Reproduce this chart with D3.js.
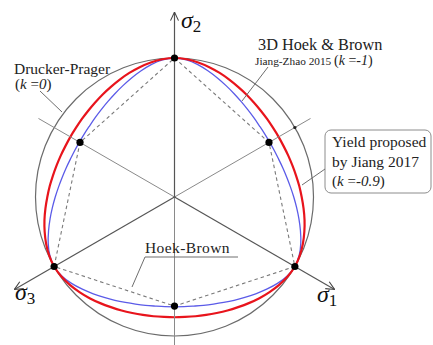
<!DOCTYPE html>
<html>
<head>
<meta charset="utf-8">
<script src="https://cdn.jsdelivr.net/npm/d3@7/dist/d3.min.js"></script>
<style>
  html, body { margin: 0; padding: 0; background: #fff; }
  svg { display: block; font-family: "Liberation Serif", "Times New Roman", serif; }
</style>
</head>
<body>
<svg id="chart" width="433" height="345"></svg>
<script>
// Deviatoric (π-plane) section of several rock yield criteria.
// Radii are relative to the Drucker-Prager circle (1 = on the circle),
// sampled every 5° of Lode angle from the compression meridian (0°)
// to the principal-axis vertex (60°); the six sectors are mirror images.
const lodeAngles     = [0, 5, 10, 15, 20, 25, 30, 35, 40, 45, 50, 55, 60];
const jiang2017      = [0.865, 0.866, 0.871, 0.878, 0.888, 0.901, 0.915, 0.932, 0.950, 0.967, 0.983, 0.995, 1.000]; // k = -0.9
const jiangZhao2015  = [0.790, 0.792, 0.797, 0.807, 0.820, 0.837, 0.858, 0.882, 0.909, 0.938, 0.967, 0.990, 1.000]; // k = -1
const hoekBrownRadii = [0.785, 1.000];   // straight-sided hexagon: mid-sector, vertex
const druckerPrager  = 1.000;            // k = 0, circle

// Principal stress axes, angle clockwise from the upward direction
const axisNames  = ["1", "2", "3"];
const axisAngles = [120, 0, 240];

const svg = d3.select("#chart");
const cx = 174.5, cy = 197, R = 139;
const r = d3.scaleLinear().domain([0, 1]).range([0, R]);

const px = (a, rr) => cx + r(rr) * Math.sin(a * Math.PI / 180);
const py = (a, rr) => cy - r(rr) * Math.cos(a * Math.PI / 180);

// Expand one 60° table to the full closed curve by symmetry
function fullCurve(values) {
  const pts = [];
  for (let a = 0; a < 360; a += 5) {
    let d = a % 120; if (d > 60) d = 120 - d;          // distance from vertex
    const idx = lodeAngles.indexOf(60 - d);
    pts.push([a * Math.PI / 180, values[idx]]);
  }
  return pts;
}

const radial = d3.lineRadial()
  .angle(d => d[0])
  .radius(d => r(d[1]))
  .curve(d3.curveCatmullRomClosed.alpha(0.5));

const g = svg.append("g").attr("transform", `translate(${cx},${cy})`);

// Arrow marker for the stress axes
svg.append("defs").append("marker")
  .attr("id", "arrow").attr("viewBox", "0 0 10 10")
  .attr("refX", 9.5).attr("refY", 5)
  .attr("markerWidth", 10).attr("markerHeight", 10)
  .attr("markerUnits", "userSpaceOnUse")
  .attr("orient", "auto")
  .append("path").attr("d", "M1,1 L9.5,5 L1,9")
  .attr("fill", "none").attr("stroke", "#444").attr("stroke-width", 1.1);

// Thin lines opposite to each axis
axisAngles.forEach(a => {
  const b = a + 180;
  svg.append("line")
    .attr("x1", cx).attr("y1", cy)
    .attr("x2", px(b, 1.13)).attr("y2", py(b, 1.13))
    .attr("stroke", "#8a8a8a").attr("stroke-width", 1);
});

// Principal axes with arrows
axisAngles.forEach(a => {
  svg.append("line")
    .attr("x1", cx).attr("y1", cy)
    .attr("x2", px(a, 1.33)).attr("y2", py(a, 1.33))
    .attr("stroke", "#555").attr("stroke-width", 1.2)
    .attr("marker-end", "url(#arrow)");
});

// Drucker-Prager circle
g.append("circle").attr("r", r(druckerPrager))
  .attr("fill", "none").attr("stroke", "#6b6b6b").attr("stroke-width", 1.2);

// Hoek-Brown hexagon (dashed)
const hexPts = d3.range(6).map(i => [i * 60, hoekBrownRadii[i % 2 === 0 ? 1 : 0]]);
svg.append("path")
  .attr("d", d3.line().x(d => px(d[0], d[1])).y(d => py(d[0], d[1])).curve(d3.curveLinearClosed)(hexPts))
  .attr("fill", "none").attr("stroke", "#7a7a7a").attr("stroke-width", 1.1)
  .attr("stroke-dasharray", "3.5,3");

// Jiang-Zhao 2015 (blue) and Jiang 2017 (red)
g.append("path").attr("d", radial(fullCurve(jiangZhao2015)))
  .attr("fill", "none").attr("stroke", "#5b5be8").attr("stroke-width", 1.3);
g.append("path").attr("d", radial(fullCurve(jiang2017)))
  .attr("fill", "none").attr("stroke", "#e8141c").attr("stroke-width", 2.2);

// Vertices and mid-sector points
hexPts.forEach(d => {
  svg.append("circle").attr("cx", px(d[0], d[1])).attr("cy", py(d[0], d[1]))
    .attr("r", 3.6).attr("fill", "#000");
});
svg.append("circle").attr("cx", px(60, 1)).attr("cy", py(60, 1))
  .attr("r", 1.6).attr("fill", "#222");

// Axis labels σ1, σ2, σ3
const axisLabelPos = { "1": [317, 302], "2": [181, 28], "3": [15, 300] };
axisNames.forEach(n => {
  const [x, y] = axisLabelPos[n];
  const t = svg.append("text").attr("x", x).attr("y", y).attr("fill", "#111");
  t.append("tspan").attr("font-size", 24).attr("font-style", "italic").text("σ");
  t.append("tspan").attr("font-size", 17).attr("dy", 4).text(n);
});

const gray = "#6e6e6e";
// Drucker-Prager label
svg.append("text").attr("x", 14).attr("y", 74).attr("font-size", 15.5).attr("fill", "#222")
  .text("Drucker-Prager");
const dp = svg.append("text").attr("x", 15).attr("y", 89).attr("font-size", 15).attr("fill", "#222");
dp.append("tspan").text("(");
dp.append("tspan").attr("font-style", "italic").text("k");
dp.append("tspan").text(" =");
dp.append("tspan").attr("font-style", "italic").text("0");
dp.append("tspan").text(")");
svg.append("line").attr("x1", 40).attr("y1", 91).attr("x2", 62).attr("y2", 112)
  .attr("stroke", gray).attr("stroke-width", 1);

// 3D Hoek & Brown label
svg.append("text").attr("x", 258).attr("y", 50).attr("font-size", 16.3).attr("fill", "#222")
  .text("3D Hoek & Brown");
const jz = svg.append("text").attr("x", 255).attr("y", 65).attr("fill", "#222");
jz.append("tspan").attr("font-size", 11.3).text("Jiang-Zhao 2015 ");
jz.append("tspan").attr("font-size", 14).text("(");
jz.append("tspan").attr("font-size", 14).attr("font-style", "italic").text("k");
jz.append("tspan").attr("font-size", 14).text(" =-");
jz.append("tspan").attr("font-size", 14).attr("font-style", "italic").text("1");
jz.append("tspan").attr("font-size", 14).text(")");
svg.append("line").attr("x1", 268).attr("y1", 67).attr("x2", 242).attr("y2", 101)
  .attr("stroke", gray).attr("stroke-width", 1);

// Jiang 2017 boxed label
svg.append("rect").attr("x", 325).attr("y", 130).attr("width", 106).attr("height", 63)
  .attr("rx", 6).attr("fill", "#fff").attr("stroke", "#8c8c8c").attr("stroke-width", 1);
svg.append("text").attr("x", 332).attr("y", 147).attr("font-size", 15.5).attr("fill", "#222")
  .text("Yield proposed");
svg.append("text").attr("x", 332).attr("y", 167).attr("font-size", 15.5).attr("fill", "#222")
  .text("by Jiang 2017");
const jb = svg.append("text").attr("x", 332).attr("y", 186).attr("font-size", 15).attr("fill", "#222");
jb.append("tspan").text("(");
jb.append("tspan").attr("font-style", "italic").text("k");
jb.append("tspan").text(" =-");
jb.append("tspan").attr("font-style", "italic").text("0.9");
jb.append("tspan").text(")");
svg.append("line").attr("x1", 325).attr("y1", 169).attr("x2", 302).attr("y2", 185)
  .attr("stroke", gray).attr("stroke-width", 1);

// Hoek-Brown label with leader
svg.append("text").attr("x", 145).attr("y", 253).attr("font-size", 15.5).attr("fill", "#222")
  .attr("letter-spacing", 0.4)
  .text("Hoek-Brown");
svg.append("path").attr("d", "M238,257 L145,257 L132,287")
  .attr("fill", "none").attr("stroke", gray).attr("stroke-width", 1);
</script>
</body>
</html>
